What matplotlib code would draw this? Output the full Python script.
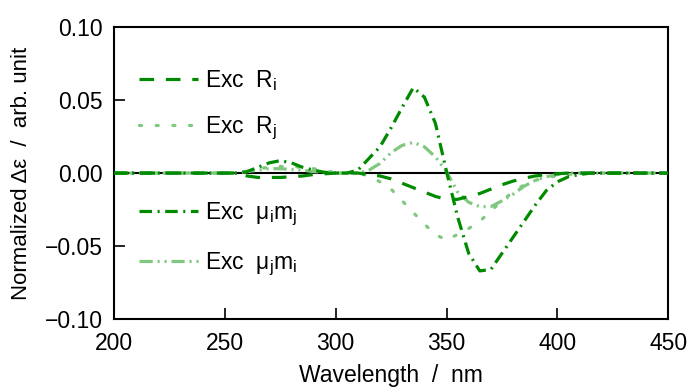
import numpy as np
import matplotlib
matplotlib.use("Agg")
import matplotlib.pyplot as plt

plt.rcParams['font.family'] = ['Liberation Sans', 'DejaVu Sans']
plt.rcParams['mathtext.fontset'] = 'custom'
plt.rcParams['mathtext.rm'] = 'Liberation Sans'
plt.rcParams['mathtext.it'] = 'Liberation Sans'
plt.rcParams['lines.scale_dashes'] = False

# wavelength grid (nm)
wl = [200, 250, 255, 260, 265, 270, 275, 280, 285, 290, 295, 300, 305, 310,
      315, 320, 325, 330, 335, 340, 345, 350, 355, 360, 365, 370, 375, 380,
      385, 390, 395, 400, 405, 410, 415, 420, 450]

exc_Ri = [0, 0, 0, -0.002, -0.003, -0.003, -0.003, -0.0025, -0.002, -0.001, -0.0005, 0, 0, 0,
          -0.001, -0.002, -0.004, -0.007, -0.010, -0.013, -0.016, -0.018, -0.018, -0.016,
          -0.014, -0.011, -0.008, -0.0055, -0.0035, -0.002, -0.001, -0.0005, 0, 0, 0, 0, 0]

exc_Rj = [0, 0, 0, 0.001, 0.003, 0.004, 0.0045, 0.0045, 0.004, 0.003, 0.0015, 0.0005, 0, 0,
          -0.002, -0.006, -0.011, -0.019, -0.027, -0.035, -0.042, -0.046, -0.042, -0.038,
          -0.033, -0.026, -0.019, -0.013, -0.008, -0.005, -0.003, -0.002, -0.001, 0, 0, 0, 0]

exc_mimj = [0, 0, 0, 0.001, 0.004, 0.007, 0.0085, 0.007, 0.004, 0.002, 0.0005, 0, 0, 0.002,
            0.010, 0.018, 0.031, 0.045, 0.0585, 0.052, 0.034, 0.001, -0.030, -0.055,
            -0.067, -0.066, -0.055, -0.044, -0.033, -0.022, -0.012, -0.006, -0.0025, -0.001, 0, 0, 0]

exc_mjmi = [0, 0, 0, 0.001, 0.002, 0.003, 0.003, 0.0025, 0.002, 0.001, 0.0005, 0, 0, 0,
            0.002, 0.0066, 0.014, 0.019, 0.021, 0.018, 0.011, 0.001, -0.013, -0.020,
            -0.023, -0.023, -0.019, -0.0145, -0.009, -0.005, -0.0025, -0.001, 0, 0, 0, 0, 0]

dark = '#008a00'
light = '#80c880'

fig = plt.figure(figsize=(6.91, 3.92), dpi=100)
ax = fig.add_axes([0.165, 0.186, 0.802, 0.745])

ax.axhline(0, color='black', lw=1.5, zorder=1)

l1, = ax.plot(wl, exc_Ri, color=dark, lw=2.3, linestyle=(0, (10.5, 8.5)),
              label='Exc  R$_\\mathrm{i}$', zorder=3)
l2, = ax.plot(wl, exc_Rj, color=light, lw=2.3, linestyle=(0, (1.5, 10.5)),
              dash_capstyle='round', label='Exc  R$_\\mathrm{j}$', zorder=2)
l3, = ax.plot(wl, exc_mimj, color=dark, lw=2.3, linestyle=(0, (9, 4, 1.5, 4)),
              label='Exc  \u03bc$_\\mathrm{i}$m$_\\mathrm{j}$', zorder=3)
l4, = ax.plot(wl, exc_mjmi, color=light, lw=2.3, linestyle=(0, (9.5, 3.5, 1.5, 3.5, 1.5, 3.5)),
              label='Exc  \u03bc$_\\mathrm{j}$m$_\\mathrm{i}$', zorder=2)

ax.set_xlim(200, 450)
ax.set_ylim(-0.10, 0.10)
ax.set_xticks([200, 250, 300, 350, 400, 450])
ax.set_yticks([-0.10, -0.05, 0.00, 0.05, 0.10])
ax.set_yticklabels(['\u22120.10', '\u22120.05', '0.00', '0.05', '0.10'])
ax.tick_params(direction='in', length=8, width=1.2, labelsize=16.5)
ax.tick_params(axis='x', pad=9)
ax.tick_params(axis='y', pad=8)
for s in ax.spines.values():
    s.set_linewidth(1.5)

ax.set_xlabel('Wavelength  /  nm', fontsize=16.5, labelpad=7)
ax.set_ylabel('Normalized \u0394\u03b5  /  arb. unit', fontsize=16, labelpad=9)

leg1 = ax.legend(handles=[l1, l2], loc='upper left', bbox_to_anchor=(0.007, 0.93),
                 frameon=False, fontsize=16.5, handlelength=2.6, labelspacing=0.95,
                 handletextpad=0.3)
ax.add_artist(leg1)
ax.legend(handles=[l3, l4], loc='upper left', bbox_to_anchor=(0.007, 0.475),
          frameon=False, fontsize=16.5, handlelength=2.6, labelspacing=0.95,
          handletextpad=0.3)

fig.savefig('out.png', dpi=100)
